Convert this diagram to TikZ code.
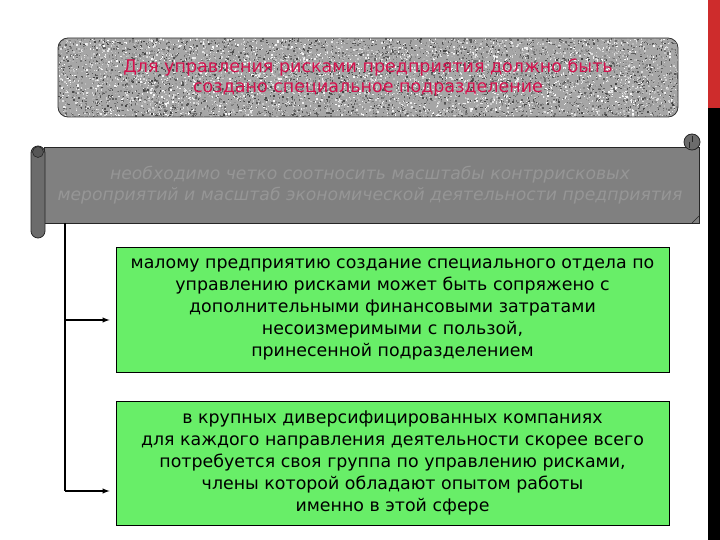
\documentclass[tikz,border=0pt]{standalone}
\usepackage{fontspec}
\setmainfont{DejaVu Sans}
\usetikzlibrary{arrows}
\definecolor{riskgreen}{RGB}{104,238,104}
\definecolor{riskred}{RGB}{212,16,76}
\definecolor{scrollgray}{RGB}{128,128,128}
\definecolor{scrollink}{RGB}{150,150,150}
\definecolor{rollgray}{RGB}{108,108,108}
\definecolor{barred}{RGB}{206,44,44}
\tikzset{
  topbox/.style={draw=black!80, line width=0.8pt, rounded corners=10pt,
                 minimum width=620pt, minimum height=79pt},
  toptext/.style={align=center, inner sep=0pt,
                  font=\fontsize{17.5pt}{20pt}\selectfont},
  scrollbox/.style={draw=black!85, line width=0.8pt, fill=scrollgray,
                    minimum width=655pt, minimum height=76pt},
  scrolltext/.style={align=center, inner sep=0pt,
                     font=\fontsize{17.2pt}{21pt}\selectfont\itshape},
  roll/.style={draw=black!85, line width=0.8pt, fill=rollgray},
  greenbox/.style={draw=black, line width=0.9pt, fill=riskgreen,
                   minimum width=553pt, minimum height=125pt,
                   align=center, inner sep=0pt,
                   font=\fontsize{17.4pt}{21.8pt}\selectfont},
  link/.style={line width=1.4pt, -latex, shorten >=6pt}
}

\begin{document}
\begin{tikzpicture}[x=1pt, y=-1pt]
\useasboundingbox (0,0) rectangle (720,540);

% side bar
\fill[barred] (708,0) rectangle (720,108);
\fill[black] (708,108) rectangle (720,540);

% grey noise box
\fill[black!35, rounded corners=10pt] (58,38) rectangle (678,117);
\begin{scope}
  \clip[rounded corners=10pt] (58,38) rectangle (678,117);
  \pgfmathsetseed{7}
  \foreach \i in {1,...,9000}{
    \pgfmathsetmacro\nx{58+620*rnd}
    \pgfmathsetmacro\ny{38+79*rnd}
    \pgfmathsetmacro\ns{int(75*rnd)}
    \fill[black!\ns] (\nx,\ny) rectangle ++(1.4,1.4);
  }
\end{scope}
\node[topbox] (need) at (368,77.5) {};
\node[toptext, text=riskred] (needtext) at (368,77.5)
  {Для управления рисками предприятия должно быть\\создано специальное подразделение};

% scroll
\node[scrollbox] (scroll) at (372,185) {};
\filldraw[roll] (692,142) circle (8pt);
\draw[black!85, line width=0.6pt] (689,142) -- (689,148) (692,136) -- (692,142);
\filldraw[roll, rounded corners=7pt] (31,146) rectangle (45,238);
\filldraw[rollgray!80!black, draw=black!85, line width=0.6pt] (38,152) circle (5.5pt);
\draw[black!85, line width=0.6pt] (692,223) -- (699,216);
\node[scrolltext, text=scrollink] (goal) at (370,185)
  {необходимо четко соотносить масштабы контррисковых\\мероприятий и масштаб экономической деятельности предприятия};

% green boxes
\node[greenbox] (small) at (392.5,309.5)
  {малому предприятию создание специального отдела по\\
   управлению рисками может быть сопряжено с\\
   дополнительными финансовыми затратами\\
   несоизмеримыми с пользой,\\
   принесенной подразделением};
\node[greenbox, minimum height=124pt] (large) at (392.5,463)
  {в крупных диверсифицированных компаниях\\
   для каждого направления деятельности скорее всего\\
   потребуется своя группа по управлению рисками,\\
   члены которой обладают опытом работы\\
   именно в этой сфере};

% connectors
\coordinate (trunk) at (65,223);
\coordinate (tosmall) at (65,320);
\coordinate (tolarge) at (65,491);
\draw[line width=1.4pt] (trunk) -- (tolarge);
\draw[link] (tosmall) -- (small.west |- tosmall);
\draw[link] (tolarge) -- (large.west |- tolarge);
\end{tikzpicture}
\end{document}
